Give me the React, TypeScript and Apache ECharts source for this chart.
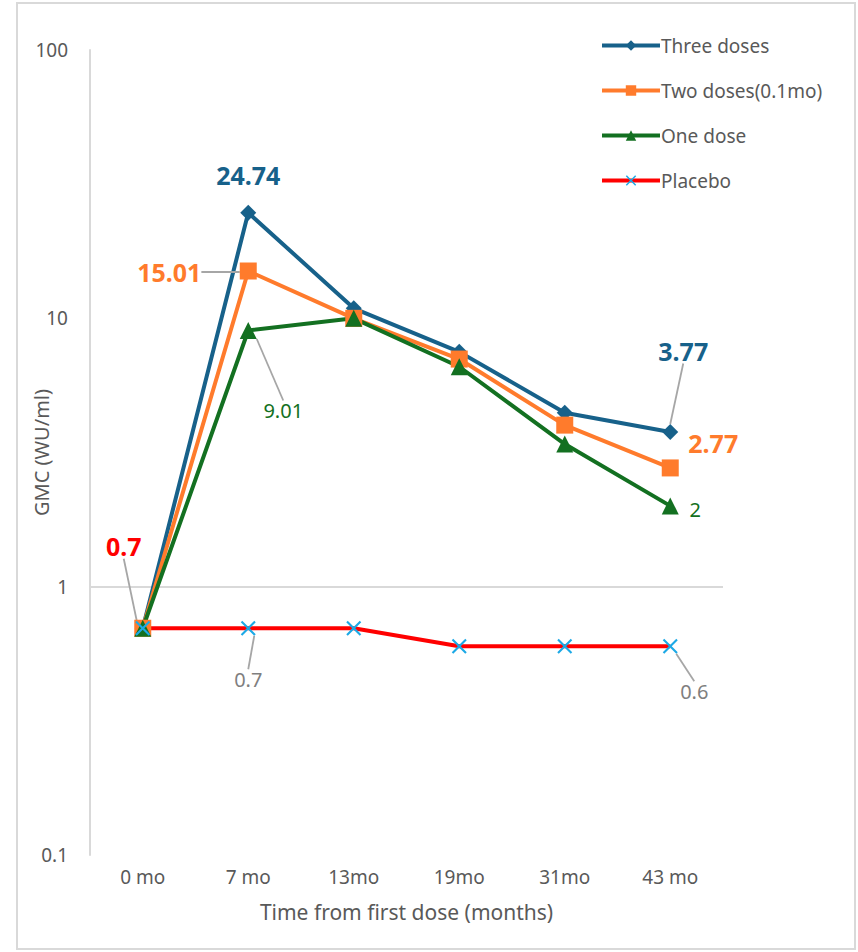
import React, { useEffect, useRef } from "react";
import * as echarts from "echarts";

// Time points and geometric mean concentrations (WU/ml)
const timePoints = ["0 mo", "7 mo", "13mo", "19mo", "31mo", "43 mo"];
const seriesNames = ["Three doses", "Two doses(0.1mo)", "One dose", "Placebo"];
const threeDoses = [0.7, 24.74, 10.9, 7.5, 4.45, 3.77];
const twoDoses = [0.7, 15.01, 10.0, 7.05, 4.0, 2.77];
const oneDose = [0.7, 9.01, 10.0, 6.6, 3.4, 2];
const placebo = [0.7, 0.7, 0.7, 0.6, 0.6, 0.6];
const yTicks = [0.1, 1, 10, 100];

const colors = ["#17618A", "#FF7B2C", "#137021", "#FF0000"];
const crossColor = "#1CA9E6";
const grey = "#595959";
const leaderGrey = "#A6A6A6";
const FONT = "'Noto Sans', 'Open Sans', sans-serif";

const crossPath =
  "path://M0,1 L1,0 L5,4 L9,0 L10,1 L6,5 L10,9 L9,10 L5,6 L1,10 L0,9 L4,5 Z";

type LabelSpec = {
  idx: number;
  color: string;
  bold: boolean;
  size: number;
  dx: number;
  dy: number;
  leader: boolean;
};

// Which points carry a value label, and how far it sits from its point
const threeLabels: LabelSpec[] = [
  { idx: 1, color: colors[0], bold: true, size: 25, dx: 0, dy: -38, leader: false },
  { idx: 5, color: colors[0], bold: true, size: 25, dx: 13, dy: -81, leader: true },
];
const twoLabels: LabelSpec[] = [
  { idx: 1, color: colors[1], bold: true, size: 25, dx: -79, dy: 1, leader: true },
  { idx: 5, color: colors[1], bold: true, size: 25, dx: 43, dy: -25, leader: false },
];
const oneLabels: LabelSpec[] = [
  { idx: 1, color: colors[2], bold: false, size: 20, dx: 35, dy: 80, leader: true },
  { idx: 5, color: colors[2], bold: false, size: 20, dx: 25, dy: 4, leader: false },
];
const placeboLabels: LabelSpec[] = [
  { idx: 0, color: colors[3], bold: true, size: 25, dx: -19, dy: -82, leader: true },
  { idx: 1, color: "#7F7F7F", bold: false, size: 20, dx: 0, dy: 51, leader: true },
  { idx: 5, color: "#7F7F7F", bold: false, size: 20, dx: 24, dy: 45, leader: true },
];

function buildData(values: number[], specs: LabelSpec[]) {
  return values.map((v, i) => {
    const s = specs.find((l) => l.idx === i);
    if (!s) return { value: v };
    return {
      value: v,
      label: {
        show: true,
        position: "inside",
        formatter: String(v),
        color: s.color,
        fontWeight: s.bold ? "bold" : "normal",
        fontSize: s.size,
        fontFamily: FONT,
      },
      labelLine: {
        show: s.leader,
        lineStyle: { color: leaderGrey, width: 1.8 },
      },
    };
  });
}

function makeLayout(specs: LabelSpec[]) {
  return (params: any) => {
    const s = specs.find((l) => l.idx === params.dataIndex);
    if (!s) return {};
    return { dx: s.dx, dy: s.dy };
  };
}

export default function App() {
  const ref = useRef<HTMLDivElement>(null);

  useEffect(() => {
    document.body.style.margin = "0";
    if (!ref.current) return;
    const chart = echarts.init(ref.current, undefined, { renderer: "svg" });

    const lineSeries = (
      name: string,
      values: number[],
      specs: LabelSpec[],
      color: string,
      symbol: string,
      symbolSize: number,
      extra: any = {}
    ) => ({
      name,
      type: "line",
      data: buildData(values, specs),
      symbol,
      symbolSize,
      showSymbol: true,
      lineStyle: { color, width: 4 },
      itemStyle: { color },
      label: { show: false },
      labelLine: { show: false, smooth: false, length2: 0 },
      labelLayout: makeLayout(specs),
      emphasis: { disabled: true },
      ...extra,
    });

    chart.setOption({
      animation: false,
      backgroundColor: "#ffffff",
      textStyle: { fontFamily: FONT },
      graphic: [
        {
          type: "rect",
          shape: { x: 17, y: 3, width: 838, height: 946 },
          style: { fill: "none", stroke: "#D9D9D9", lineWidth: 2 },
          silent: true,
        },
      ],
      grid: {
        left: 90,
        right: 135,
        top: 50,
        bottom: 97,
        containLabel: false,
        outerBoundsMode: "none",
      },
      legend: {
        orient: "vertical",
        left: 595,
        top: 31,
        itemWidth: 58,
        itemHeight: 13,
        itemGap: 26,
        lineStyle: { width: 4 },
        textStyle: { color: grey, fontSize: 19, fontFamily: FONT, padding: [0, 0, 0, -4] },
        data: seriesNames,
      },
      xAxis: {
        type: "category",
        data: timePoints,
        boundaryGap: true,
        axisLine: { show: false },
        axisTick: { show: false },
        axisLabel: { color: grey, fontSize: 19, margin: 12, fontFamily: FONT },
        name: "Time from first dose (months)",
        nameLocation: "middle",
        nameGap: 46,
        nameMoveOverlap: false,
        nameTextStyle: { color: grey, fontSize: 21, fontFamily: FONT },
      },
      yAxis: {
        type: "log",
        logBase: 10,
        min: yTicks[0],
        max: yTicks[yTicks.length - 1],
        axisLine: { show: true, lineStyle: { color: "#D9D9D9", width: 2 } },
        axisTick: { show: false },
        splitLine: { show: false },
        axisLabel: {
          color: grey,
          fontSize: 19,
          margin: 22,
          fontFamily: FONT,
          formatter: (v: number) => String(v),
        },
        name: "GMC (WU/ml)",
        nameLocation: "middle",
        nameGap: 39,
        nameMoveOverlap: false,
        nameTextStyle: { color: grey, fontSize: 20, fontFamily: FONT },
      },
      series: [
        lineSeries(seriesNames[0], threeDoses, threeLabels, colors[0], "diamond", 16),
        lineSeries(seriesNames[1], twoDoses, twoLabels, colors[1], "rect", 17),
        lineSeries(seriesNames[2], oneDose, oneLabels, colors[2], "triangle", 17),
        lineSeries(seriesNames[3], placebo, placeboLabels, colors[3], crossPath, 15, {
          itemStyle: { color: crossColor },
          markLine: {
            silent: true,
            symbol: "none",
            label: { show: false },
            lineStyle: { color: "#D9D9D9", width: 2, type: "solid" },
            data: [{ yAxis: 1 }],
            z: 1,
          },
        }),
      ],
    });

    return () => chart.dispose();
  }, []);

  return <div ref={ref} style={{ width: 858, height: 952 }} />;
}
